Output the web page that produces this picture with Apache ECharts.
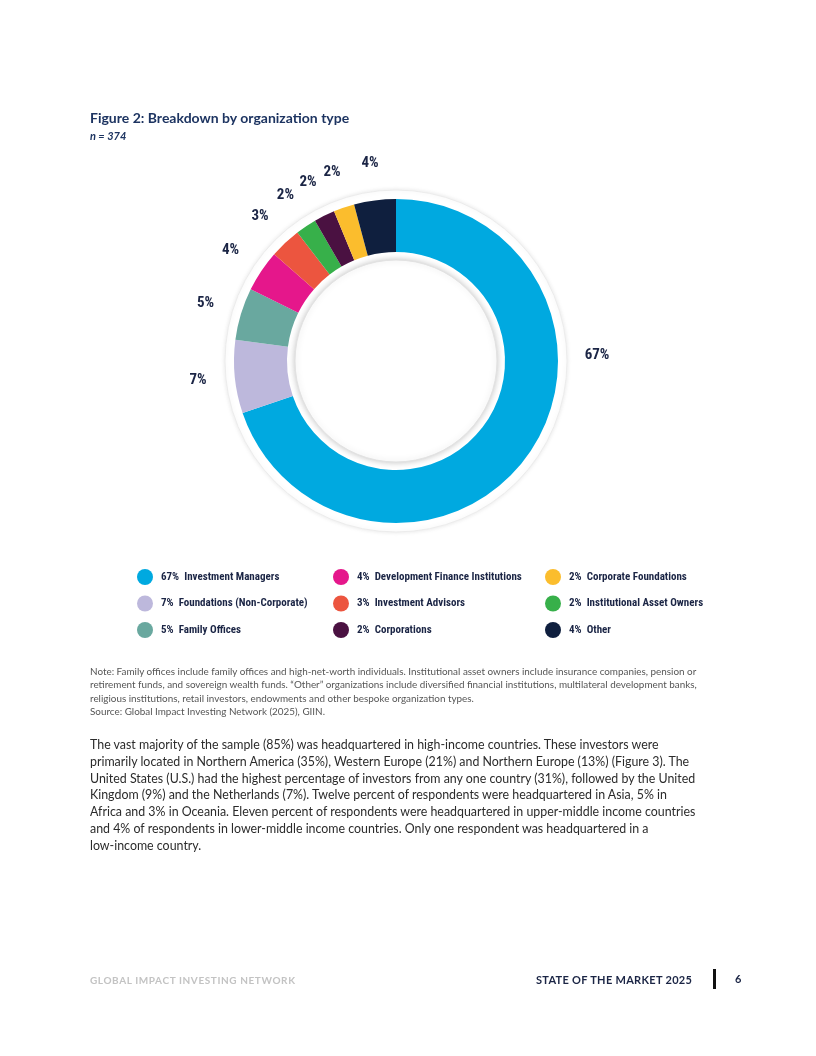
<!DOCTYPE html>
<html>
<head>
<meta charset="utf-8">
<script src="https://cdn.jsdelivr.net/npm/echarts@6/dist/echarts.min.js"></script>
<style>
  html, body { margin: 0; padding: 0; background: #fff; }
  #page { position: relative; width: 816px; height: 1056px; overflow: hidden; font-family: Lato, "Noto Sans", sans-serif; }
  #chart { position: absolute; left: 0; top: 0; width: 816px; height: 1056px; }
  .t { position: absolute; z-index: 2; white-space: nowrap; }
  #title { left: 90px; top: 109px; font-size: 14px; font-weight: bold; color: #1d3461; }
  #n { left: 90px; top: 129px; font-size: 11px; font-style: italic; font-weight: bold; color: #1d3461; }
  #note { left: 90px; top: 665px; font-size: 9.9px; line-height: 13.3px; color: #555; }
  #body { left: 90px; top: 737px; font-size: 12.4px; line-height: 16.8px; color: #2b2b2b; }
  #foot1 { left: 90px; top: 974px; font-size: 10px; letter-spacing: 0.6px; color: #c3c3c3; font-weight: bold; }
  #foot2 { left: 536px; top: 973px; font-size: 11px; letter-spacing: 0.3px; color: #1b2545; font-weight: bold; }
  #bar { position: absolute; left: 713px; top: 969px; width: 3px; height: 20px; background: #111; z-index: 2; }
  #pg { left: 735px; top: 972px; font-size: 11px; font-weight: bold; color: #1b2545; }
</style>
</head>
<body>
<div id="page">
  <div id="chart"></div>
  <div class="t" id="title">Figure 2: Breakdown by organization type</div>
  <div class="t" id="n">n = 374</div>
  <div class="t" id="note">Note: Family offices include family offices and high-net-worth individuals. Institutional asset owners include insurance companies, pension or<br>retirement funds, and sovereign wealth funds. “Other” organizations include diversified financial institutions, multilateral development banks,<br>religious institutions, retail investors, endowments and other bespoke organization types.<br>Source: Global Impact Investing Network (2025), GIIN.</div>
  <div class="t" id="body">The vast majority of the sample (85%) was headquartered in high-income countries. These investors were<br>primarily located in Northern America (35%), Western Europe (21%) and Northern Europe (13%) (Figure 3). The<br>United States (U.S.) had the highest percentage of investors from any one country (31%), followed by the United<br>Kingdom (9%) and the Netherlands (7%). Twelve percent of respondents were headquartered in Asia, 5% in<br>Africa and 3% in Oceania. Eleven percent of respondents were headquartered in upper-middle income countries<br>and 4% of respondents in lower-middle income countries. Only one respondent was headquartered in a<br>low-income country.</div>
  <div class="t" id="foot1">GLOBAL IMPACT INVESTING NETWORK</div>
  <div class="t" id="foot2">STATE OF THE MARKET 2025</div>
  <div id="bar"></div>
  <div class="t" id="pg">6</div>
</div>
<script>
// ---- data ----
const categories = ['Investment Managers', 'Foundations (Non-Corporate)', 'Family Offices',
  'Development Finance Institutions', 'Investment Advisors', 'Institutional Asset Owners',
  'Corporations', 'Corporate Foundations', 'Other'];
const values = [67, 7, 5, 4, 3, 2, 2, 2, 4];
const colors = ['#00a9e0', '#bdb8dc', '#69a89f', '#e5178b', '#ec553f', '#37b04a', '#4a1141', '#fbbd2d', '#0f1f3e'];
const legendCol1 = ['Investment Managers', 'Foundations (Non-Corporate)', 'Family Offices'];
const legendCol2 = ['Development Finance Institutions', 'Investment Advisors', 'Corporations'];
const legendCol3 = ['Corporate Foundations', 'Institutional Asset Owners', 'Other'];

// ---- layout ----
const CX = 396, CY = 361;
const LABEL_R = 196;
const condensed = "'Roboto Condensed', 'Open Sans Condensed', sans-serif";
const navy = '#1b2545';

const pieData = categories.map((c, i) => ({ name: c, value: values[i], itemStyle: { color: colors[i] } }));
const valueOf = name => values[categories.indexOf(name)];

function legendFor(list, left) {
  return {
    data: list,
    orient: 'vertical',
    left: left,
    top: 564,
    icon: 'circle',
    itemWidth: 16,
    itemHeight: 16,
    itemGap: 10.5,
    selectedMode: false,
    formatter: name => valueOf(name) + '%  ' + name,
    textStyle: { color: navy, fontSize: 11, fontWeight: 'bold', fontFamily: condensed, padding: [0, 0, 0, 3] }
  };
}

const chart = echarts.init(document.getElementById('chart'), null, { renderer: 'canvas' });
chart.setOption({
  animation: false,
  legend: [legendFor(legendCol1, 132), legendFor(legendCol2, 328), legendFor(legendCol3, 540)],
  series: [
    {
      type: 'pie', name: 'donut', center: [CX, CY], radius: [109, 162],
      startAngle: 90, clockwise: true, silent: true, z: 3,
      label: { show: false }, labelLine: { show: false },
      itemStyle: { borderWidth: 0 },
      data: pieData
    },
    {
      type: 'pie', name: 'bgdisk', center: [CX, CY], radius: [0, 171], silent: true, z: 1,
      label: { show: false }, labelLine: { show: false },
      itemStyle: { color: '#ffffff', borderColor: '#ececec', borderWidth: 1, shadowBlur: 5, shadowColor: 'rgba(0,0,0,0.10)' },
      data: [{ value: 1, name: '' }]
    },
    {
      type: 'pie', name: 'innerdisk', center: [CX, CY], radius: [0, 101], silent: true, z: 4,
      label: { show: false }, labelLine: { show: false },
      itemStyle: { color: '#ffffff', borderColor: '#e2e2e2', borderWidth: 1, shadowBlur: 6, shadowColor: 'rgba(0,0,0,0.22)' },
      data: [{ value: 1, name: ' ' }]
    },
    {
      type: 'pie', name: 'labels', center: [CX, CY], radius: [LABEL_R - 8, LABEL_R + 8],
      startAngle: 90, clockwise: true, silent: true, z: 5,
      itemStyle: { color: 'rgba(0,0,0,0)', borderWidth: 0 },
      labelLine: { show: false },
      label: {
        show: true, position: 'inside', formatter: '{c}%',
        color: navy, fontSize: 15, fontWeight: 'bold', fontFamily: condensed
      },
      labelLayout: function (p) {
        if (p.dataIndex === 0) {
          return { x: CX + 201, y: CY - 6, align: 'center', verticalAlign: 'middle' };
        }
        return {};
      },
      data: categories.map((c, i) => ({ name: c, value: values[i] }))
    }
  ]
});
</script>
</body>
</html>
